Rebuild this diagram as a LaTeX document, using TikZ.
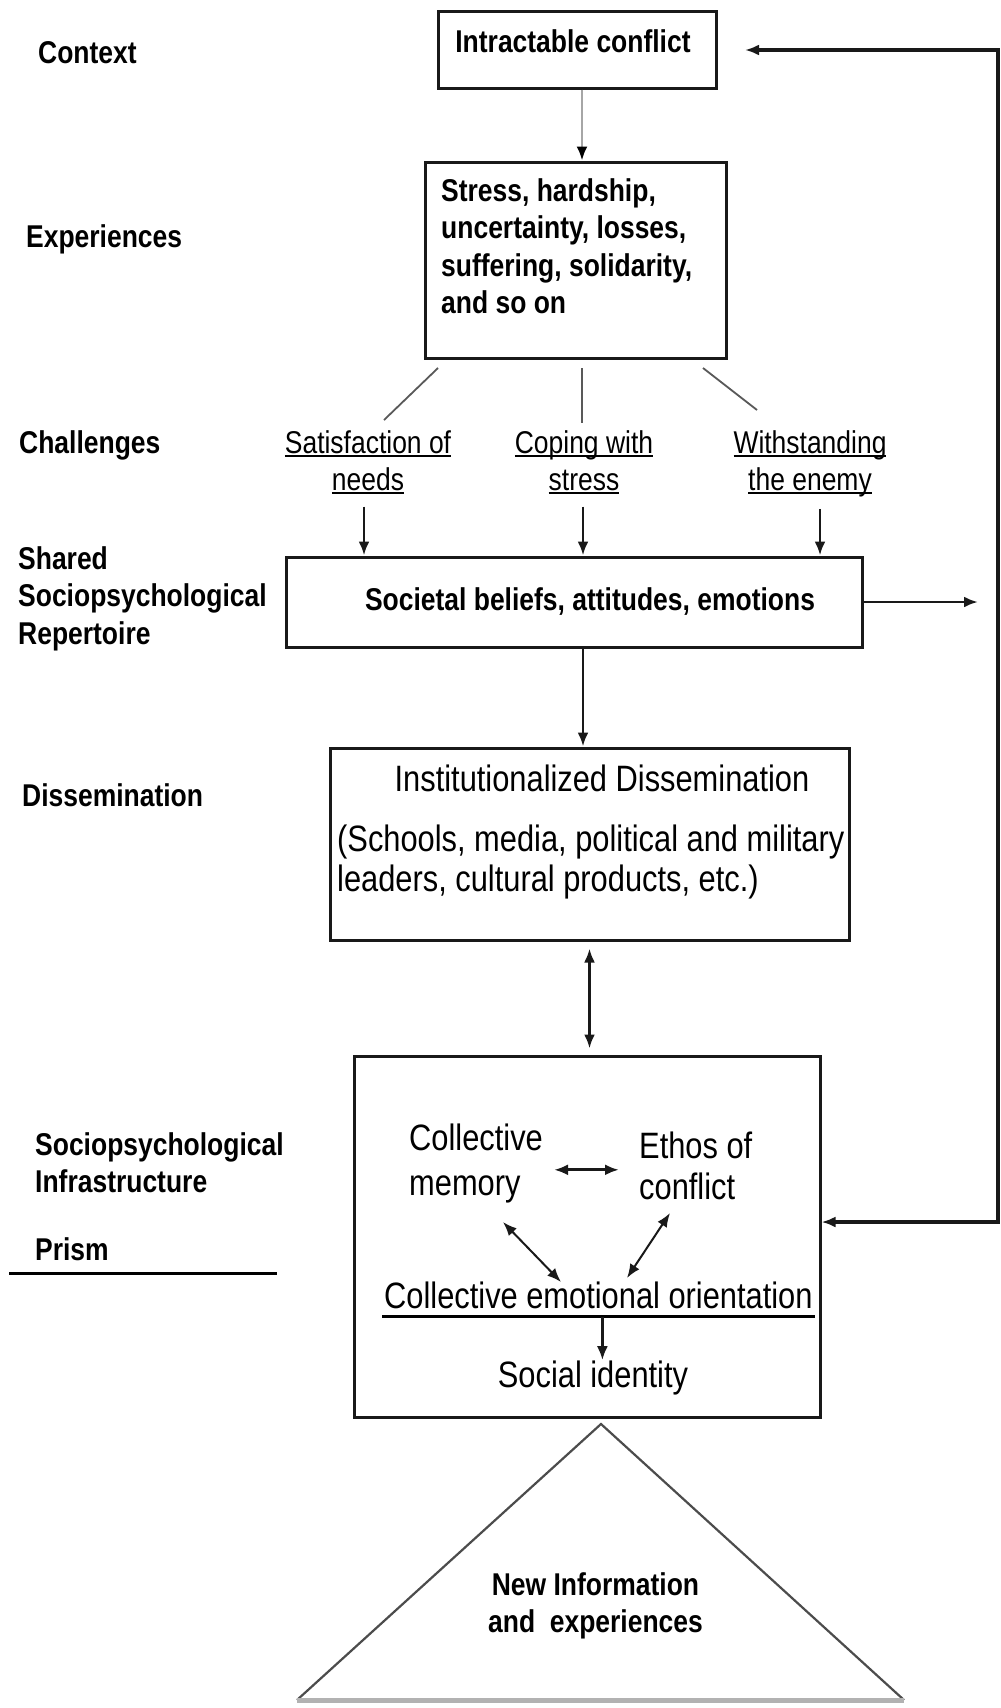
\documentclass[tikz,border=0pt]{standalone}
\usepackage{fontspec}
\usepackage{tikz}
\usetikzlibrary{arrows.meta, positioning}
\newfontfamily\figfont[FakeStretch=0.84]{Liberation Sans}
\newcommand\ulbar[1]{\setbox0\hbox{#1}\rlap{\rule[-4.3pt]{\wd0}{2.7pt}}\box0}

\begin{document}
\begin{tikzpicture}
  [
    x=1pt, y=-1pt,
    Box/.style={rectangle, draw=black!90, line width=3pt, inner sep=0pt},
    Label/.style={font=\figfont\bfseries\fontsize{31.5}{37.5}\selectfont, inner sep=0pt, align=left},
    Small/.style={font=\figfont\fontsize{31.5}{37}\selectfont, inner sep=0pt, align=center},
    Big/.style={font=\figfont\fontsize{36.7}{40}\selectfont, inner sep=0pt, align=left},
    Arrow/.style={line width=2.8pt, draw=black!90, -{Latex[length=14pt, width=11pt]}},
    Twin/.style={line width=2.8pt, draw=black!90, {Latex[length=14pt, width=11pt]}-{Latex[length=14pt, width=11pt]}},
    Thin/.style={line width=1.8pt, draw=black!65}
  ]
  \useasboundingbox (0, 0) rectangle (1001, 1708);

  % Nodes
  \node[Label, anchor=base west] (context) at (38, 63) {Context};
  \node[Label, anchor=base west] (experiences) at (26, 247) {Experiences};
  \node[Label, anchor=base west] (challenges) at (19, 453) {Challenges};
  \node[Label, anchor=north west] (shared) at (18, 546) {Shared\\Sociopsychological\\Repertoire};
  \node[Label, anchor=base west] (dissemination) at (22, 806) {Dissemination};
  \node[Label, anchor=north west] (infra) at (35, 1132) {Sociopsychological\\Infrastructure};
  \node[Label, anchor=base west] (prism) at (35, 1260) {Prism};

  \node[Box, minimum width=278pt, minimum height=77pt] (conflict) at (577, 49.5) {};
  \node[Label, anchor=base] (conflicttext) at (573, 52) {Intractable conflict};

  \node[Box, minimum width=301pt, minimum height=196pt] (stress) at (575.5, 260) {};
  \node[Label, anchor=north west] (stresstext) at (441, 178) {Stress, hardship,\\uncertainty, losses,\\suffering, solidarity,\\and so on};

  \node[Small, anchor=north] (needs) at (368, 430) {\ulbar{Satisfaction of}\\\ulbar{needs}};
  \node[Small, anchor=north] (coping) at (584, 430) {\ulbar{Coping with}\\\ulbar{stress}};
  \node[Small, anchor=north] (enemy) at (810, 430) {\ulbar{Withstanding}\\\ulbar{the enemy}};

  \node[Box, minimum width=576pt, minimum height=90pt] (beliefs) at (574, 602) {};
  \node[Label, anchor=base] (beliefstext) at (590, 610) {Societal beliefs, attitudes, emotions};

  \node[Box, minimum width=519pt, minimum height=192pt] (channels) at (589.5, 844) {};
  \node[Big, anchor=base] (channelstitle) at (602, 791) {Institutionalized Dissemination};
  \node[Big, anchor=north west] (channelstext) at (337, 825) {(Schools, media, political and military\\leaders, cultural products, etc.)};

  \node[Box, minimum width=466pt, minimum height=361pt] (infrabox) at (587, 1236.5) {};
  \node[Big, anchor=north west] (memory) at (409, 1124) {Collective\\[5pt]memory};
  \node[Big, anchor=north west] (ethos) at (639, 1132) {Ethos of\\[1pt]conflict};
  \node[Big, anchor=base west] (orientation) at (384, 1308) {Collective emotional orientation};
  \node[Big, anchor=base] (identity) at (593, 1387) {Social identity};

  \node[Label, anchor=north, align=center] (newinfo) at (595.5, 1572) {New Information\\and\ \ experiences};

  \coordinate (apex) at (601, 1424);
  \coordinate (baseL) at (297, 1700);
  \coordinate (baseR) at (904, 1700);
  \coordinate (fbtop) at (998, 50);
  \coordinate (fbbot) at (998, 1222);
  \coordinate (fbend) at (745, 50);
  \coordinate (outflow) at (978, 602);
  \coordinate (prismstart) at (9, 1273);
  \coordinate (prismend) at (277, 1273);
  \coordinate (c1a) at (438, 368);
  \coordinate (c1b) at (384, 420);
  \coordinate (c2a) at (582, 368);
  \coordinate (c2b) at (582, 423);
  \coordinate (c3a) at (703, 368);
  \coordinate (c3b) at (757, 410);
  \coordinate (d1a) at (503, 1222);
  \coordinate (d1b) at (561, 1282);
  \coordinate (d2a) at (670, 1213);
  \coordinate (d2b) at (627, 1278);

  % Lines
  \path [line width=2.4pt, draw=gray!70, -{Latex[length=14pt, width=11pt, black]}] ([xshift=5pt]conflict.south) -- ([xshift=5pt]conflict.south |- stress.north);

  \path [Thin] (c1a) -- (c1b);
  \path [Thin] (c2a) -- (c2b);
  \path [Thin] (c3a) -- (c3b);

  \path [Arrow, shorten <=12pt] ([xshift=-4pt]needs.south) -- ([xshift=-4pt]needs.south |- beliefs.north);
  \path [Arrow, shorten <=12pt] ([xshift=-1pt]coping.south) -- ([xshift=-1pt]coping.south |- beliefs.north);
  \path [Arrow, shorten <=12pt] ([xshift=10pt]enemy.south) -- ([xshift=10pt]enemy.south |- beliefs.north);

  \path [Arrow] ([xshift=9pt]beliefs.south) -- ([xshift=9pt]beliefs.south |- channels.north);
  \path [Arrow] (beliefs.east) -- (outflow);
  \path [Twin, line width=3.2pt, shorten <=7pt, shorten >=6pt] (channels.south) -- (channels.south |- infrabox.north);

  \path [Twin, line width=3.2pt, shorten <=11pt, shorten >=20pt] ([yshift=-6pt]memory.east) -- ([yshift=-6pt]memory.east -| ethos.west);
  \path [Twin, line width=2pt] (d1a) -- (d1b);
  \path [Twin, line width=2pt] (d2a) -- (d2b);
  \path [draw, line width=3pt] ([shift={(-2pt,-8pt)}]orientation.base west) -- ([shift={(2pt,-8pt)}]orientation.base east);
  \path [Arrow, shorten <=8pt] ([xshift=4pt]orientation.south) -- ([xshift=4pt]orientation.south |- identity.north);

  \path [Arrow, line width=3.2pt, line join=miter, line cap=rect] (fbbot) -- (fbtop) -- (fbend);
  \path [Arrow, line width=3.2pt, line cap=rect] (fbbot) -- (infrabox.east |- fbbot);

  \path [draw, line width=3pt] (prismstart) -- (prismend);

  \path [draw=black!70, line width=2.2pt, line join=miter] (baseL) -- (apex) -- (baseR);
  \path [draw=gray!60, line width=5pt] (baseL) -- (baseR);

\end{tikzpicture}
\end{document}
